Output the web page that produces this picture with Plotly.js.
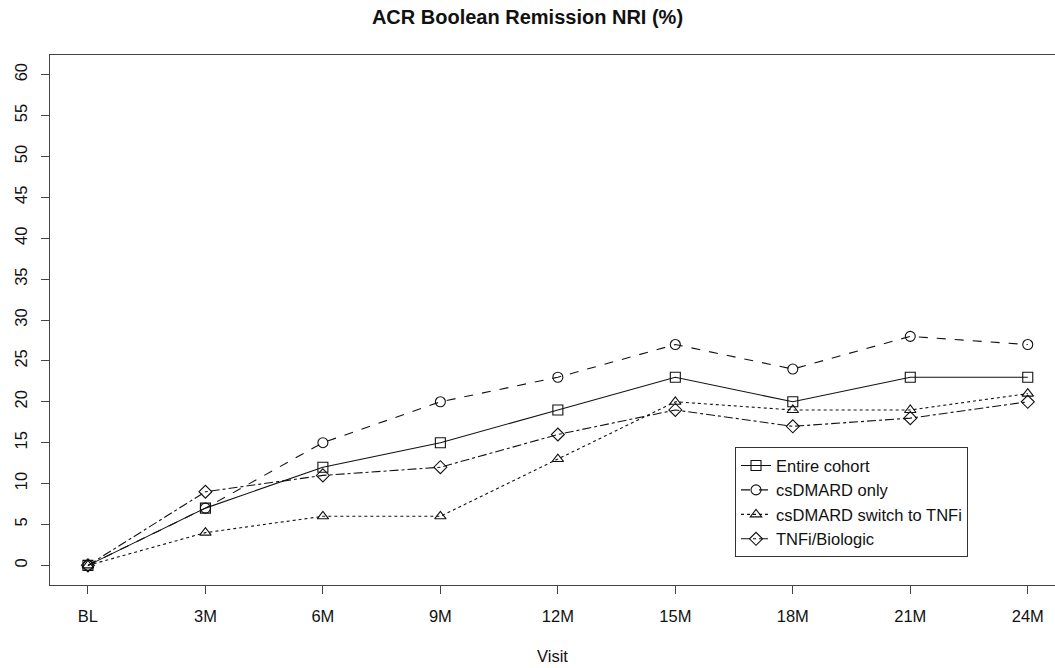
<!DOCTYPE html>
<html>
<head>
<meta charset="utf-8">
<script src="https://cdn.plot.ly/plotly-3.0.1.min.js"></script>
<style>html,body{margin:0;padding:0;background:#fff;}#chart{width:1055px;height:668px;}</style>
</head>
<body>
<div id="chart"></div>
<script>
const visits = ["BL","3M","6M","9M","12M","15M","18M","21M","24M"];
const entireCohort = [0,7,12,15,19,23,20,23,23];
const csdmardOnly = [0,7,15,20,23,27,24,28,27];
const csdmardSwitch = [0,4,6,6,13,20,19,19,21];
const tnfiBiologic = [0,9,11,12,16,19,17,18,20];
const seriesNames = ["Entire cohort","csDMARD only","csDMARD switch to TNFi","TNFi/Biologic"];
const yTicks = [0,5,10,15,20,25,30,35,40,45,50,55,60];

const xIdx = visits.map((v,i)=>i+1);
const styles = [
  {dash:"solid", symbol:"square-open"},
  {dash:"dash", symbol:"circle-open"},
  {dash:"dot", symbol:"triangle-up-open"},
  {dash:"dashdot", symbol:"diamond-open"}
];
const data = [entireCohort, csdmardOnly, csdmardSwitch, tnfiBiologic].map((ys,k)=>({
  x: xIdx, y: ys, name: seriesNames[k], type:"scatter", mode:"lines+markers",
  line:{color:"#111", width:1.1, dash:styles[k].dash},
  marker:{symbol:styles[k].symbol, size:10, color:"#111", line:{width:1.1, color:"#111"}}
}));

const layout = {
  width:1055, height:668,
  paper_bgcolor:"#fff", plot_bgcolor:"#fff",
  margin:{l:50, r:0, t:55, b:83},
  font:{family:"Liberation Sans, Arial, sans-serif", size:16, color:"#111"},
  title:{text:"<b>ACR Boolean Remission NRI (%)</b>", x:0.5, xanchor:"center", y:0.985, yanchor:"top", font:{size:20, color:"#111"}},
  showlegend:true,
  legend:{x:0.6816, y:0.26, xanchor:"left", yanchor:"top", bgcolor:"#fff", bordercolor:"#333", borderwidth:1,
    font:{size:16.5, color:"#111"}, tracegroupgap:0, itemwidth:30},
  xaxis:{range:[0.677, 9.232], tickvals:xIdx, ticktext:visits, showgrid:false, zeroline:false,
    showline:true, mirror:true, linecolor:"#444", linewidth:1.2, ticks:"outside", ticklen:8, tickcolor:"#444",
    ticklabelstandoff:8, tickfont:{size:16.5}, title:{text:"Visit", font:{size:16.5}, standoff:26}},
  yaxis:{range:[-2.4, 62.4], tickvals:yTicks, showgrid:false, zeroline:false,
    showline:true, mirror:false, linecolor:"#444", linewidth:1.2, ticks:"outside", ticklen:8, tickcolor:"#444",
    ticklabelstandoff:7, tickangle:-90, tickfont:{size:16.5}}
};
Plotly.newPlot("chart", data, layout, {displayModeBar:false, staticPlot:true});
</script>
</body>
</html>
